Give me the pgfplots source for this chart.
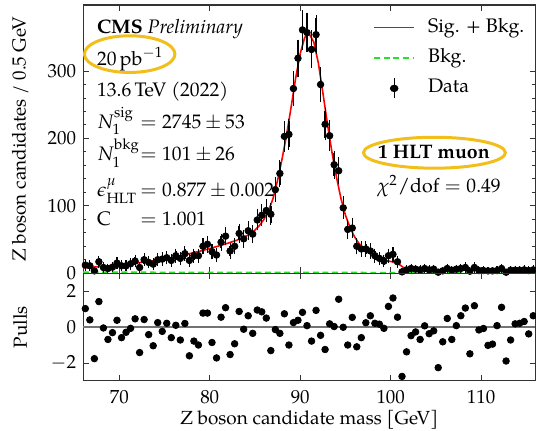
\documentclass[border=0pt]{standalone}
\usepackage{mathpazo}
\usepackage{fontspec}
\setmainfont{texgyrepagella}[Extension=.otf, UprightFont=*-regular, BoldFont=*-bold, ItalicFont=*-italic, BoldItalicFont=*-bolditalic]
\usepackage{pgfplots}
\usepackage{pgfplotstable}
\pgfplotsset{compat=1.18}
\definecolor{cmsgold}{RGB}{242,190,25}
\definecolor{bkggreen}{RGB}{40,225,40}
\definecolor{fitred}{RGB}{255,0,0}

\pgfplotsset{
  datalegend/.style={legend image code/.code={\draw[black, line width=0.7pt, solid] (8.5pt,-5pt) -- (8.5pt,5pt); \fill[black] (8.5pt,0pt) circle (1.65pt);}},
}

\pgfplotstableread{
m n e
66.25 12 4.7
66.75 11 4.5
67.25 3.5 2.5
67.75 17 5.6
68.25 8.5 3.9
68.75 7 3.6
69.25 9 4.0
69.75 15 5.2
70.25 11 4.5
70.75 11 4.5
71.25 14 5.1
71.75 18 5.7
72.25 8.5 3.9
72.75 20 6.0
73.25 16 5.4
73.75 13.5 5.0
74.25 20 6.0
74.75 21 6.2
75.25 23 6.5
75.75 19 5.9
76.25 26 6.9
76.75 22 6.3
77.25 29 7.3
77.75 19 5.9
78.25 26 6.9
78.75 26 6.9
79.25 40 8.5
79.75 43 8.9
80.25 32 7.6
80.75 27 7.0
81.25 46 9.2
81.75 55 10.0
82.25 33 7.8
82.75 40 8.5
83.25 59 10.4
83.75 51 9.6
84.25 63 10.7
84.75 58 10.3
85.25 79 12.0
85.75 86 12.5
86.25 93 13.0
86.75 87.5 12.6
87.25 124 15.0
87.75 148 16.4
88.25 203 19.2
88.75 206 19.4
89.25 274 22.3
89.75 319 24.1
90.25 361 25.6
90.75 357 25.5
91.25 332 24.6
91.75 354 25.4
92.25 280 22.6
92.75 221 20.1
93.25 204 19.3
93.75 161 17.1
94.25 152 16.6
94.75 97 13.3
95.25 65 10.9
95.75 67 11.0
96.25 40 8.5
96.75 36 8.1
97.25 36 8.1
97.75 33 7.8
98.25 26 6.9
98.75 22 6.3
99.25 18 5.7
99.75 26 6.9
100.25 28 7.1
100.75 17 5.6
101.25 2 1.9
101.75 5 3.0
102.25 7 3.6
102.75 6 3.3
103.25 5 3.0
103.75 7 3.6
104.25 5 3.0
104.75 6 3.3
105.25 1.5 1.7
105.75 3.5 2.5
106.25 7 3.6
106.75 4.5 2.9
107.25 6 3.3
107.75 7 3.6
108.25 8.5 3.9
108.75 3 2.3
109.25 8.5 3.9
109.75 4 2.7
110.25 4 2.7
110.75 3.5 2.5
111.25 3.5 2.5
111.75 4 2.7
112.25 7 3.6
112.75 1.5 1.7
113.25 4.5 2.9
113.75 4.5 2.9
114.25 4.5 2.9
114.75 5 3.0
115.25 4 2.7
115.75 5 3.0
}\datatable

\pgfplotstableread{
m p
66.25 1.03
66.75 0.40
67.25 -1.76
67.75 1.42
68.25 -0.05
68.75 -0.69
69.25 -0.31
69.75 0.38
70.25 -0.59
70.75 -0.29
71.25 -0.07
71.75 0.46
72.25 -1.42
72.75 0.42
73.25 -0.42
73.75 -1.04
74.25 0.25
74.75 -0.24
75.25 0.21
75.75 -0.59
76.25 0.10
76.75 -0.72
77.25 0.20
77.75 -1.60
78.25 -0.78
78.75 -1.00
79.25 0.78
79.75 0.78
80.25 -0.86
80.75 -1.72
81.25 0.55
81.75 1.08
82.25 -1.53
82.75 -0.93
83.25 0.87
83.75 -0.12
84.25 0.63
84.75 -0.35
85.25 0.95
85.75 0.85
86.25 0.50
86.75 -1.31
87.25 -0.14
87.75 -0.35
88.25 0.74
88.75 -1.00
89.25 0.25
89.75 0.38
90.25 0.82
90.75 0.08
91.25 -0.78
91.75 0.93
92.25 -0.46
92.75 -1.25
93.25 0.18
93.75 0.03
94.25 1.55
94.75 -0.01
95.25 -1.00
95.75 0.54
96.25 -1.10
96.75 -0.59
97.25 0.24
97.75 0.63
98.25 0.21
98.75 0.16
99.25 -0.07
99.75 1.15
100.25 1.62
100.75 0.55
101.25 -2.75
101.75 -1.38
102.25 -0.48
102.75 -0.27
103.25 -0.69
103.75 0.07
104.25 -0.37
104.75 -0.21
105.25 -2.26
105.75 -0.82
106.25 0.48
106.75 -0.69
107.25 0.08
107.75 0.63
108.25 1.06
108.75 -1.49
109.25 1.19
109.75 -0.16
110.25 -0.08
110.75 -1.02
111.25 -0.95
111.75 0.08
112.25 1.10
112.75 -1.89
113.25 -0.72
113.75 0.18
114.25 0.21
114.75 0.31
115.25 -0.38
115.75 0.63
}\pulltable

\pgfplotsset{
  every axis/.append style={
    scale only axis,
    width=226.85pt,
    xmin=66, xmax=116,
    tick align=inside,
    major tick length=3pt,
    minor tick length=1.6pt,
    axis line style={black!80, line width=0.55pt},
    every tick/.append style={black!80, line width=0.45pt},
    tick label style={font=\fontsize{9.5}{11.4}\selectfont},
    label style={font=\fontsize{9.5}{11.4}\selectfont},
    xtick={70,80,90,100,110},
  },
}

\begin{document}
\begin{tikzpicture}[font=\fontsize{9.8}{11.8}\selectfont]
\path[use as bounding box] (-41.65pt,-79pt) rectangle (227.1pt,137pt);
\begin{axis}[
  at={(0pt,0pt)}, anchor=south west,
  height=134.5pt,
  ymin=0, ymax=398,
  xticklabels={},
  ytick={0,100,200,300},
  minor y tick num=4,
  ylabel={Z boson candidates / 0.5 GeV},
  ylabel style={at={(axis description cs:-0.139,0.5)}, anchor=center},
  legend cell align=left,
  legend style={draw=none, fill=none, at={(rel axis cs:0.641,0.960)}, anchor=north west,
    inner sep=0pt, row sep=3.75pt,
    nodes={inner sep=1pt, text height=7pt, text depth=2.5pt},
    font=\fontsize{9.8}{11.8}\selectfont,
    /tikz/every odd column/.append style={column sep=5.5pt}},
]
\addlegendimage{color=fitred, line width=0.8pt, solid, legend image post style={xscale=1.176}}
\addlegendentry{Sig. + Bkg.}
\addlegendimage{color=bkggreen, line width=0.8pt, dash pattern=on 3pt off 1.8pt, legend image post style={xscale=1.176}}
\addlegendentry{Bkg.}
\addlegendimage{black, datalegend, legend image post style={xscale=1.176}}
\addlegendentry{Data}

\addplot[color=fitred, line width=0.8pt, forget plot]
 coordinates {(66.0,8) (67,9) (68,10) (69,11) (70,12.3) (71,13.8) (72,15.3) (73,17) (74,18.8) (75,20.8) (76,23.5) (77,26.5) (78,29.8) (79,33) (80,36.5) (81,40.5) (82,44.5) (83,49) (84,55) (84.5,58.5) (85,64) (85.5,71) (86,80) (86.5,93) (87,111) (87.5,138) (88,170) (88.5,206) (89,247) (89.5,290) (90,326) (90.5,350) (91,355) (91.5,343) (92,312) (92.5,268) (93,222) (93.5,180) (94,143) (94.5,111) (95,86) (95.5,68) (96,54) (96.5,44) (97,37) (97.5,32) (98,27.5) (98.5,23) (99,19.8) (99.5,18.5) (100,17.5) (100.5,15.5) (101,12.5) (101.25,10) (101.5,7.5) (102,6.5) (103,6) (104,5.6) (106,5.2) (108,4.8) (110,4.5) (112,4.2) (114,4) (116,3.8)};
\addplot[color=bkggreen, line width=0.8pt, dash pattern=on 3pt off 1.8pt, forget plot]
 coordinates {(66,1.5) (116,0.7)};
\addplot[only marks, mark=*, mark size=1.65pt, black, forget plot,
  error bars/y dir=both, error bars/y explicit,
  error bars/error bar style={line width=0.7pt, black},
  error bars/error mark options={black, mark size=1.2pt, line width=0.55pt}]
 table[x=m, y=n, y error=e] {\datatable};

\draw[cmsgold, line width=1.5pt] (axis cs:71.15,325.1) ellipse [x radius=22.7pt, y radius=9.2pt];
\draw[cmsgold, line width=1.5pt] (axis cs:104.83,178.8) ellipse [x radius=35.6pt, y radius=7.75pt];

\node[anchor=base west, inner sep=0pt] at (axis cs:67.51,356.1) {\textbf{CMS} \textit{Preliminary}};
\node[anchor=base west, inner sep=0pt] at (axis cs:67.51,308.9) {20\,pb$^{-1}$};
\node[anchor=base west, inner sep=0pt] at (axis cs:67.51,262.0) {13.6\,TeV (2022)};
\node[anchor=base west, inner sep=0pt] at (axis cs:67.51,215.3) {$N_1^{\mathrm{sig}}$};
\node[anchor=base west, inner sep=0pt] at (axis cs:72.3,215.3) {$= 2745 \pm 53$};
\node[anchor=base west, inner sep=0pt] at (axis cs:67.51,167.4) {$N_1^{\mathrm{bkg}}$};
\node[anchor=base west, inner sep=0pt] at (axis cs:72.3,167.4) {$= 101 \pm 26$};
\node[anchor=base west, inner sep=0pt] at (axis cs:67.51,114.2) {$\epsilon^{\mu}_{\mathrm{HLT}}$};
\node[anchor=base west, inner sep=0pt] at (axis cs:72.3,114.2) {$= 0.877 \pm 0.002$};
\node[anchor=base west, inner sep=0pt] at (axis cs:67.51,71.4) {C};
\node[anchor=base west, inner sep=0pt] at (axis cs:72.3,71.4) {$= 1.001$};

\node[anchor=base, inner sep=0pt] at (axis cs:104.78,169.9) {\textbf{1 HLT muon}};
\node[anchor=base, inner sep=0pt] at (axis cs:105.33,119.7) {$\chi^2/\mathrm{dof} = 0.49$};
\end{axis}

\begin{axis}[
  at={(0pt,0pt)}, anchor=north west,
  height=54pt,
  ymin=-3, ymax=3,
  ytick={-2,0,2},
  xticklabel style={anchor=base, yshift=-11.2pt},
  xlabel={Z boson candidate mass [GeV]},
  xlabel style={at={(axis description cs:0.5,0)}, anchor=base, yshift=-22pt},
  ylabel={Pulls},
  ylabel style={at={(axis description cs:-0.139,0.5)}, anchor=center},
]
\addplot[black!55, line width=0.75pt] coordinates {(66,0) (116,0)};
\addplot[only marks, mark=*, mark size=1.65pt, black] table[x=m, y=p] {\pulltable};
\end{axis}
\end{tikzpicture}
\end{document}
